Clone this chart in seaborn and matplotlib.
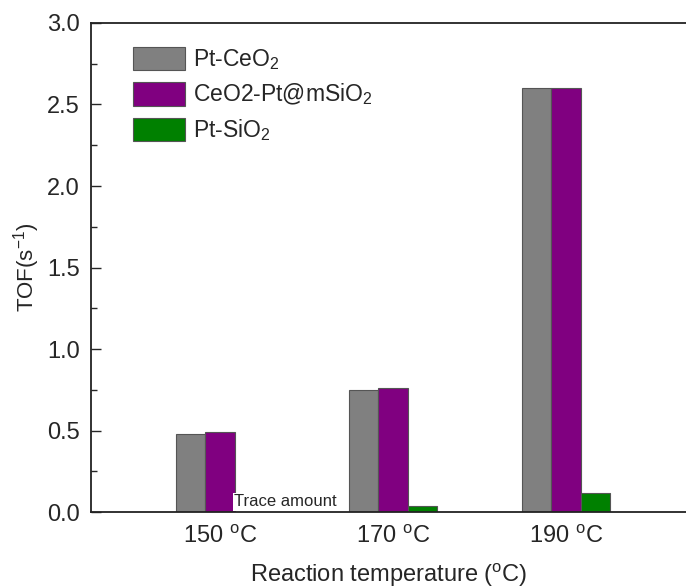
import pandas as pd
import numpy as np
import seaborn as sns
import matplotlib.pyplot as plt
from matplotlib.ticker import MultipleLocator

# values
temps = ['150 $^{o}$C', '170 $^{o}$C', '190 $^{o}$C']
catalysts = ['Pt-CeO$_2$', 'CeO2-Pt@mSiO$_2$', 'Pt-SiO$_2$']
pt_ceo2 = [0.48, 0.75, 2.60]
ceo2_pt_msio2 = [0.49, 0.76, 2.60]
pt_sio2 = [0.0, 0.04, 0.12]   # 150 C is "trace amount"
colors = ['#808080', '#800080', '#008000']

df = pd.DataFrame({
    'temp': temps * 3,
    'tof': pt_ceo2 + ceo2_pt_msio2 + pt_sio2,
    'catalyst': [c for c in catalysts for _ in temps],
})

sns.set_style('ticks')
plt.rcParams['font.family'] = ['Liberation Sans', 'DejaVu Sans']
plt.rcParams['mathtext.default'] = 'regular'

fig = plt.figure(figsize=(6.86, 5.88), dpi=100)
ax = fig.add_axes([0.1327, 0.129, 0.8673, 0.832])

sns.barplot(data=df, x='temp', y='tof', hue='catalyst', palette=colors,
            width=0.51, gap=0, edgecolor='#555555', linewidth=0.8,
            saturation=1, ax=ax)

ax.set_xlim(-0.746, 2.694)
ax.set_ylim(0, 3.0)
ax.yaxis.set_major_locator(MultipleLocator(0.5))
ax.yaxis.set_minor_locator(MultipleLocator(0.25))
ax.tick_params(axis='y', which='major', direction='in', length=7, width=1,
               labelsize=17, pad=8)
ax.tick_params(axis='y', which='minor', direction='in', length=4, width=1)
ax.tick_params(axis='x', length=0, labelsize=17, pad=10)

for s in ['left', 'bottom', 'top']:
    ax.spines[s].set_color('#222222')
    ax.spines[s].set_linewidth(1.3)
ax.spines['right'].set_visible(False)

ax.set_ylabel('TOF(s$^{-1}$)', fontsize=16, labelpad=4)
ax.set_xlabel('Reaction temperature ($^{o}$C)', fontsize=17, labelpad=10)

ax.text(0.08, 0.035, 'Trace amount', fontsize=12, ha='left', va='baseline',
        bbox=dict(facecolor='white', edgecolor='none', pad=1), zorder=5)

handles, labels = ax.get_legend_handles_labels()
ax.legend(handles, labels, loc='upper left', bbox_to_anchor=(0.052, 0.975),
          frameon=False, fontsize=16.5, handlelength=2.23, handleheight=1.2,
          labelspacing=0.42, handletextpad=0.35, borderpad=0)

fig.savefig('out.png', dpi=100)
